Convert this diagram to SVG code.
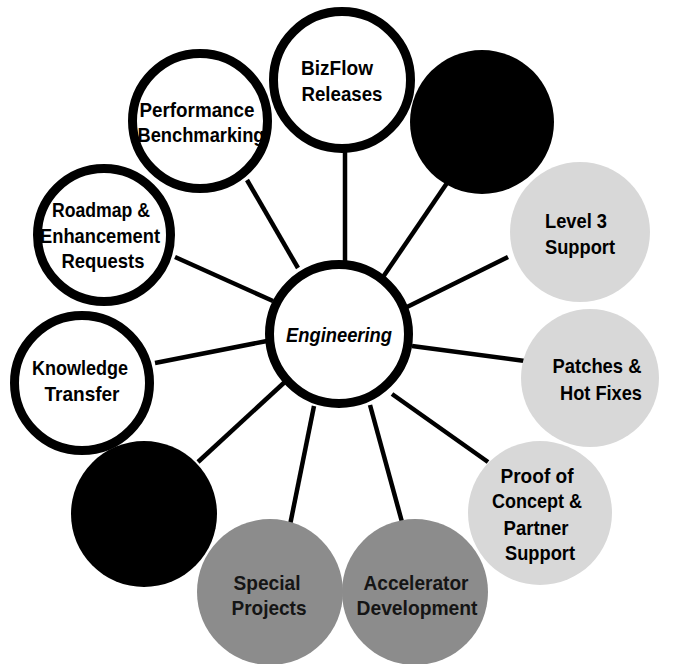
<svg xmlns="http://www.w3.org/2000/svg" width="675" height="664" viewBox="0 0 675 664">
<style>
.ring{fill:#fff;stroke:#000;stroke-width:9}
.blk{fill:#000}
.lt{fill:#d8d8d8}
.md{fill:#8c8c8c}
.spoke{stroke:#000;stroke-width:4.5;stroke-linecap:butt;fill:none}
.t{font-family:"Liberation Sans",Arial,sans-serif;font-weight:bold;font-size:21px;text-anchor:middle;fill:#000}
.tg{fill:#151515}
.c{font-family:"Liberation Sans",Arial,sans-serif;font-style:italic;font-weight:bold;font-size:21px;text-anchor:middle;fill:#000}
</style>
<rect width="675" height="664" fill="#fff"/>
<g id="connectors">
<line class="spoke" x1="247" y1="180" x2="298" y2="268"/>
<line class="spoke" x1="175" y1="257" x2="273" y2="301"/>
<line class="spoke" x1="345" y1="150" x2="345" y2="262"/>
<line class="spoke" x1="447" y1="183" x2="383" y2="277"/>
<line class="spoke" x1="508" y1="257" x2="407" y2="307"/>
<line class="spoke" x1="525" y1="361" x2="412" y2="346"/>
<line class="spoke" x1="488" y1="462" x2="392" y2="394"/>
<line class="spoke" x1="402" y1="522" x2="370" y2="405"/>
<line class="spoke" x1="290" y1="525" x2="314" y2="406"/>
<line class="spoke" x1="198" y1="462" x2="287" y2="380"/>
<line class="spoke" x1="155" y1="363" x2="267" y2="341"/>
</g>
<g id="node-bizflow">
<circle class="ring" cx="342" cy="80" r="68.5"/>
<text class="t" x="337" y="75" textLength="72" lengthAdjust="spacingAndGlyphs">BizFlow</text>
<text class="t" x="342" y="101" textLength="81" lengthAdjust="spacingAndGlyphs">Releases</text>
</g>
<g id="node-performance">
<circle class="ring" cx="200" cy="121" r="67.5"/>
<text class="t" x="197" y="117" textLength="115" lengthAdjust="spacingAndGlyphs">Performance</text>
<text class="t" x="201" y="142" textLength="127" lengthAdjust="spacingAndGlyphs">Benchmarking</text>
</g>
<g id="node-black-top">
<circle class="blk" cx="482" cy="122" r="72"/>
</g>
<g id="node-roadmap">
<circle class="ring" cx="104" cy="235" r="66.5"/>
<text class="t" x="101" y="217" textLength="98" lengthAdjust="spacingAndGlyphs">Roadmap &amp;</text>
<text class="t" x="100" y="243" textLength="120" lengthAdjust="spacingAndGlyphs">Enhancement</text>
<text class="t" x="103" y="268" textLength="83" lengthAdjust="spacingAndGlyphs">Requests</text>
</g>
<g id="node-knowledge">
<circle class="ring" cx="82" cy="383" r="67.5"/>
<text class="t" x="80" y="375" textLength="96" lengthAdjust="spacingAndGlyphs">Knowledge</text>
<text class="t" x="82" y="401" textLength="75" lengthAdjust="spacingAndGlyphs">Transfer</text>
</g>
<g id="node-black-bottom">
<circle class="blk" cx="144" cy="514" r="73"/>
</g>
<g id="node-level3">
<circle class="lt" cx="580" cy="232" r="70"/>
<text class="t" x="576" y="228" textLength="62" lengthAdjust="spacingAndGlyphs">Level 3</text>
<text class="t" x="580" y="254" textLength="70" lengthAdjust="spacingAndGlyphs">Support</text>
</g>
<g id="node-patches">
<circle class="lt" cx="590" cy="378" r="69"/>
<text class="t" x="597" y="373" textLength="89" lengthAdjust="spacingAndGlyphs">Patches &amp;</text>
<text class="t" x="601" y="400" textLength="82" lengthAdjust="spacingAndGlyphs">Hot Fixes</text>
</g>
<g id="node-proof">
<circle class="lt" cx="540" cy="513" r="72"/>
<text class="t" x="537" y="483" textLength="73" lengthAdjust="spacingAndGlyphs">Proof of</text>
<text class="t" x="537" y="508" textLength="90" lengthAdjust="spacingAndGlyphs">Concept &amp;</text>
<text class="t" x="536" y="535" textLength="65" lengthAdjust="spacingAndGlyphs">Partner</text>
<text class="t" x="540" y="560" textLength="70" lengthAdjust="spacingAndGlyphs">Support</text>
</g>
<g id="node-special">
<circle class="md" cx="270" cy="592" r="73"/>
<text class="t tg" x="267" y="590" textLength="67" lengthAdjust="spacingAndGlyphs">Special</text>
<text class="t tg" x="269" y="615" textLength="75" lengthAdjust="spacingAndGlyphs">Projects</text>
</g>
<g id="node-accelerator">
<circle class="md" cx="415" cy="592" r="73"/>
<text class="t tg" x="416" y="590" textLength="105" lengthAdjust="spacingAndGlyphs">Accelerator</text>
<text class="t tg" x="417" y="615" textLength="121" lengthAdjust="spacingAndGlyphs">Development</text>
</g>
<g id="node-engineering">
<circle class="ring" cx="339" cy="334" r="69.5"/>
<text class="c" x="339" y="342" textLength="106" lengthAdjust="spacingAndGlyphs">Engineering</text>
</g>
</svg>
